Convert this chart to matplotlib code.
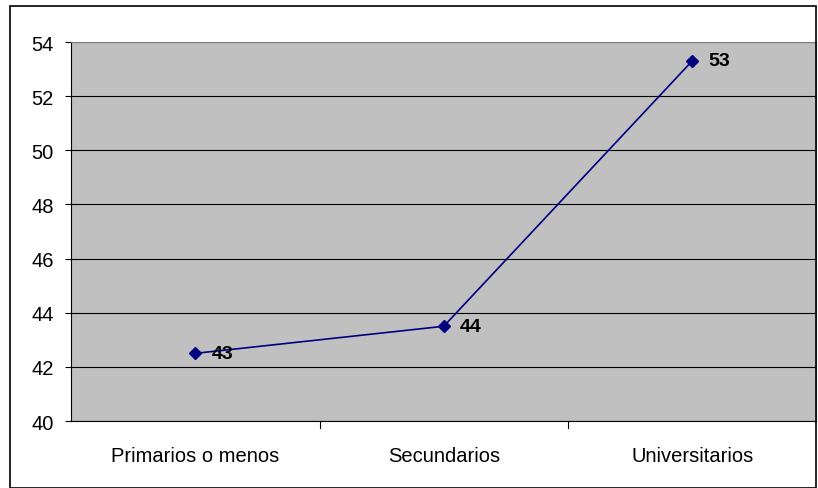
import matplotlib.pyplot as plt
from matplotlib.patches import Rectangle

# Datos
categorias = ['Primarios o menos', 'Secundarios', 'Universitarios']
valores = [42.5, 43.5, 53.3]
etiquetas = ['43', '44', '53']
yticks = [40, 42, 44, 46, 48, 50, 52, 54]

plt.rcParams['font.family'] = ['Liberation Sans', 'DejaVu Sans']

fig = plt.figure(figsize=(8.18, 4.89), dpi=100)
ax = fig.add_axes([0.087, 0.137, 0.911, 0.775])
ax.set_facecolor('#c0c0c0')

x = list(range(len(categorias)))
ax.plot(x, valores, color='#000080', lw=1.2, marker='D', markersize=6, zorder=3)
for xi, v, t in zip(x, valores, etiquetas):
    ax.text(xi + 0.065, v, t, fontsize=14, fontweight='bold', va='center', ha='left', zorder=4)

ax.set_xlim(-0.5, 2.5)
ax.set_ylim(40, 54)
ax.set_yticks(yticks)
ax.set_xticks(x)
ax.set_xticklabels(categorias, fontsize=14.5)
ax.tick_params(axis='y', labelsize=14.5, length=4.5, pad=8, direction='out')
ax.tick_params(axis='x', length=0, pad=18)
# marcas entre categorias
for b in [0.5, 1.5]:
    ax.plot([b, b], [0, -0.018], transform=ax.get_xaxis_transform(), color='black',
            lw=0.8, clip_on=False)
ax.grid(axis='y', color='black', lw=0.8)
ax.set_axisbelow(True)
for s in ['top', 'right']:
    ax.spines[s].set_color('#808080')
for s in ['left', 'bottom']:
    ax.spines[s].set_color('black')

fig.patches.append(Rectangle((0.0125, 0.0), 0.985, 0.985, transform=fig.transFigure,
                             fill=False, edgecolor='black', lw=1.2))

fig.savefig('out.png', dpi=100)
